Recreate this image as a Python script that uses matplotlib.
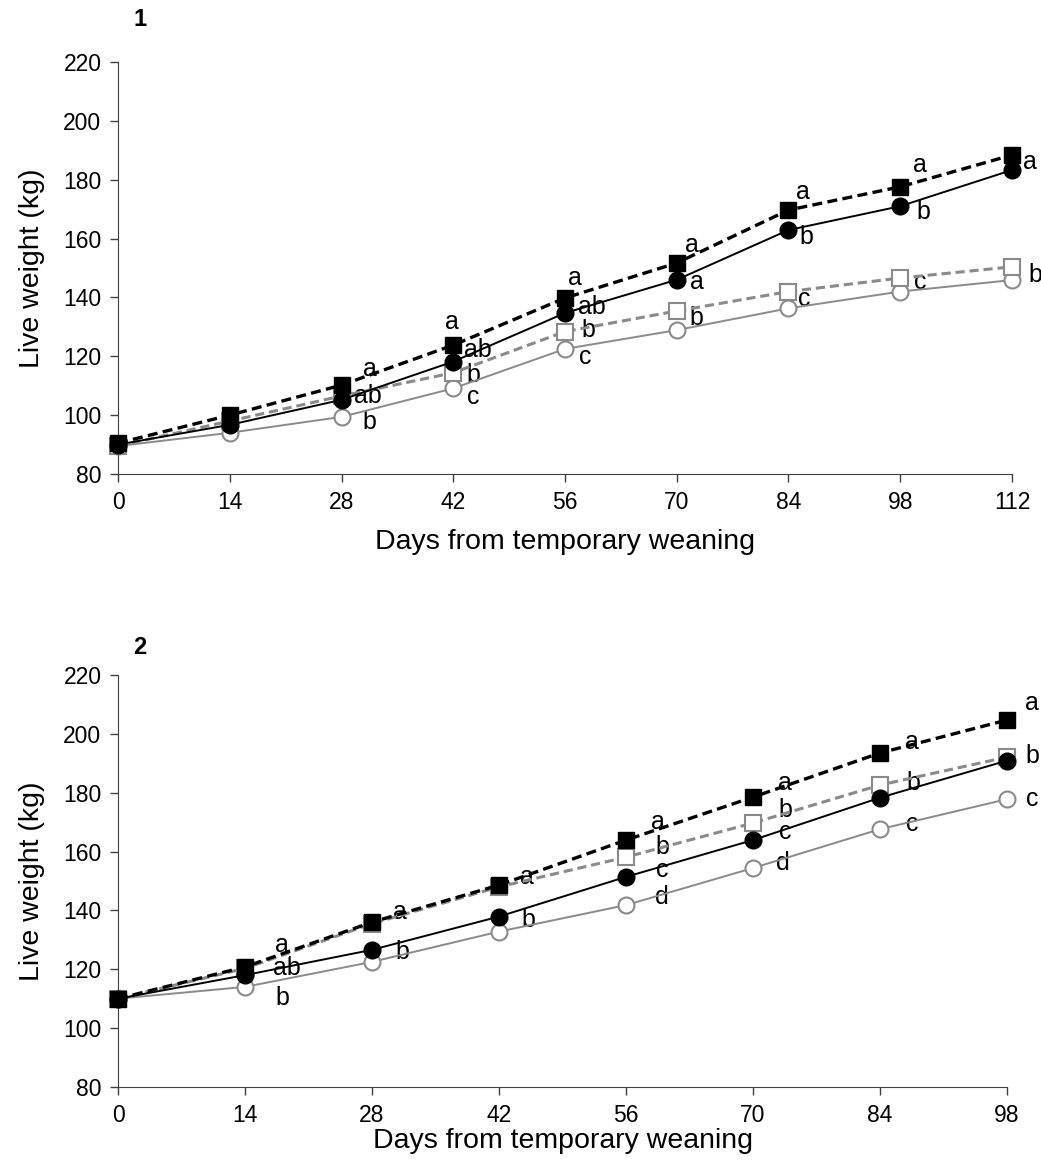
import matplotlib
matplotlib.use("Agg")
import matplotlib.pyplot as plt


# panel 1 data
days_1 = [0, 14, 28, 42, 56, 70, 84, 98, 112]
closed_square_1 = [90.5, 100.0, 110.2, 123.8, 139.8, 151.7, 169.7, 177.6, 188.4]
closed_circle_1 = [90.0, 96.7, 105.2, 118.2, 134.7, 146.0, 162.9, 171.0, 183.3]
open_square_1 = [89.5, 98.0, 106.5, 114.4, 128.4, 135.4, 142.0, 146.6, 150.4]
open_circle_1 = [89.5, 94.0, 99.4, 109.1, 122.5, 128.9, 136.3, 142.0, 145.9]

letters_sq_1 = ["", "", "a", "a", "a", "a", "a", "a", "a"]
letters_ci_1 = ["", "", "ab", "ab", "ab", "a", "b", "b", ""]
letters_osq_1 = ["", "", "", "b", "b", "b", "c", "c", "b"]
letters_oci_1 = ["", "", "b", "c", "c", "", "", "", ""]

# panel 2 data
days_2 = [0, 14, 28, 42, 56, 70, 84, 98]
closed_square_2 = [110.0, 120.8, 136.0, 148.6, 163.9, 178.5, 193.5, 204.7]
closed_circle_2 = [110.0, 118.0, 126.6, 137.9, 151.4, 163.9, 178.3, 190.9]
open_square_2 = [110.0, 120.3, 135.5, 148.0, 158.1, 169.7, 182.6, 192.1]
open_circle_2 = [110.0, 114.0, 122.5, 132.8, 141.8, 154.4, 167.6, 177.8]

letters_sq_2 = ["", "a", "a", "a", "a", "a", "a", "a"]
letters_ci_2 = ["", "ab", "b", "b", "c", "c", "", ""]
letters_osq_2 = ["", "", "", "", "b", "b", "b", "b"]
letters_oci_2 = ["", "b", "", "", "d", "d", "c", "c"]

y_ticks = [80, 100, 120, 140, 160, 180, 200, 220]

# label offsets (pixels right, up) from each marker
off_sq_1 = [None, None, (28, 16), (-1, 23), (10, 20), (15, 18), (14, 18), (20, 22), (18, -7)]
off_ci_1 = [None, None, (26, 4), (25, 12), (27, 6), (20, -2), (18, -7), (23, -6), None]
off_osq_1 = [None, None, None, (20, -2), (23, 2), (20, -7), (16, -7), (20, -4), (23, -8)]
off_oci_1 = [None, None, (28, -5), (20, -9), (20, -8), None, None, None, None]

off_sq_2 = [None, (37, 22), (28, 10), (28, 8), (32, 18), (32, 14), (32, 11), (25, 17)]
off_ci_2 = [None, (42, 7), (30, -2), (29, -3), (36, 7), (32, 8), None, None]
off_osq_2 = [None, None, None, None, (36, 10), (32, 13), (33, 2), (25, 1)]
off_oci_2 = [None, (37, -11), None, None, (36, 8), (30, 5), (32, 5), (25, 0)]

plt.rcParams["font.family"] = ["Liberation Sans", "DejaVu Sans"]

GRAY = "#8a8a8a"
PX = 0.72  # points per pixel at dpi 100


def draw_panel(ax, days, series, letters, offsets, xmax, xlabelpad):
    styles = [
        dict(color=GRAY, ls="-", lw=1.4, marker="o", mfc="white", mec=GRAY, mew=1.5, ms=11.5),
        dict(color=GRAY, ls=(0, (3, 1.6)), lw=2.2, marker="s", mfc="white", mec=GRAY, mew=1.5, ms=11.5),
        dict(color="black", ls="-", lw=1.4, marker="o", mfc="black", mec="black", ms=12),
        dict(color="black", ls=(0, (3, 1.6)), lw=2.4, marker="s", mfc="black", mec="black", ms=11.5),
    ]
    for vals, st in zip(series, styles):
        ax.plot(days, vals, zorder=3, clip_on=False, **st)

    for vals, lets, offs in zip(series, letters, offsets):
        for d, v, t, o in zip(days, vals, lets, offs):
            if t == "" or o is None:
                continue
            ax.annotate(t, (d, v), xytext=(o[0] * PX, o[1] * PX), textcoords="offset points",
                        ha="center", va="center", fontsize=18, zorder=2,
                        bbox=dict(boxstyle="square,pad=0.0", fc="white", ec="none"))

    ax.set_xlim(0, xmax)
    ax.set_ylim(80, 220)
    ax.set_xticks(days)
    ax.set_yticks(y_ticks)
    ax.spines["top"].set_visible(False)
    ax.spines["right"].set_visible(False)
    ax.spines["left"].set_color("#404040")
    ax.spines["bottom"].set_color("#404040")
    ax.tick_params(direction="out", length=6, width=1, colors="#404040", labelcolor="black",
                   labelsize=16.5, pad=6)
    ax.set_xlabel("Days from temporary weaning", fontsize=20.5, labelpad=xlabelpad)
    ax.set_ylabel("Live weight (kg)", fontsize=20.5, labelpad=13)


fig = plt.figure(figsize=(10.41, 11.64), dpi=100)
ax1 = fig.add_axes([0.1134, 0.5928, 0.8587, 0.3539])
ax2 = fig.add_axes([0.1134, 0.0662, 0.8539, 0.3539])

draw_panel(ax1, days_1,
           [open_circle_1, open_square_1, closed_circle_1, closed_square_1],
           [letters_oci_1, letters_osq_1, letters_ci_1, letters_sq_1],
           [off_oci_1, off_osq_1, off_ci_1, off_sq_1], 112, 11)
draw_panel(ax2, days_2,
           [open_circle_2, open_square_2, closed_circle_2, closed_square_2],
           [letters_oci_2, letters_osq_2, letters_ci_2, letters_sq_2],
           [off_oci_2, off_osq_2, off_ci_2, off_sq_2], 98, 1)

fig.text(140 / 1041, 1 - 20 / 1164, "1", fontsize=17, fontweight="bold", ha="center", va="center")
fig.text(140 / 1041, 1 - 648 / 1164, "2", fontsize=17, fontweight="bold", ha="center", va="center")

fig.savefig("out.png", dpi=100)
